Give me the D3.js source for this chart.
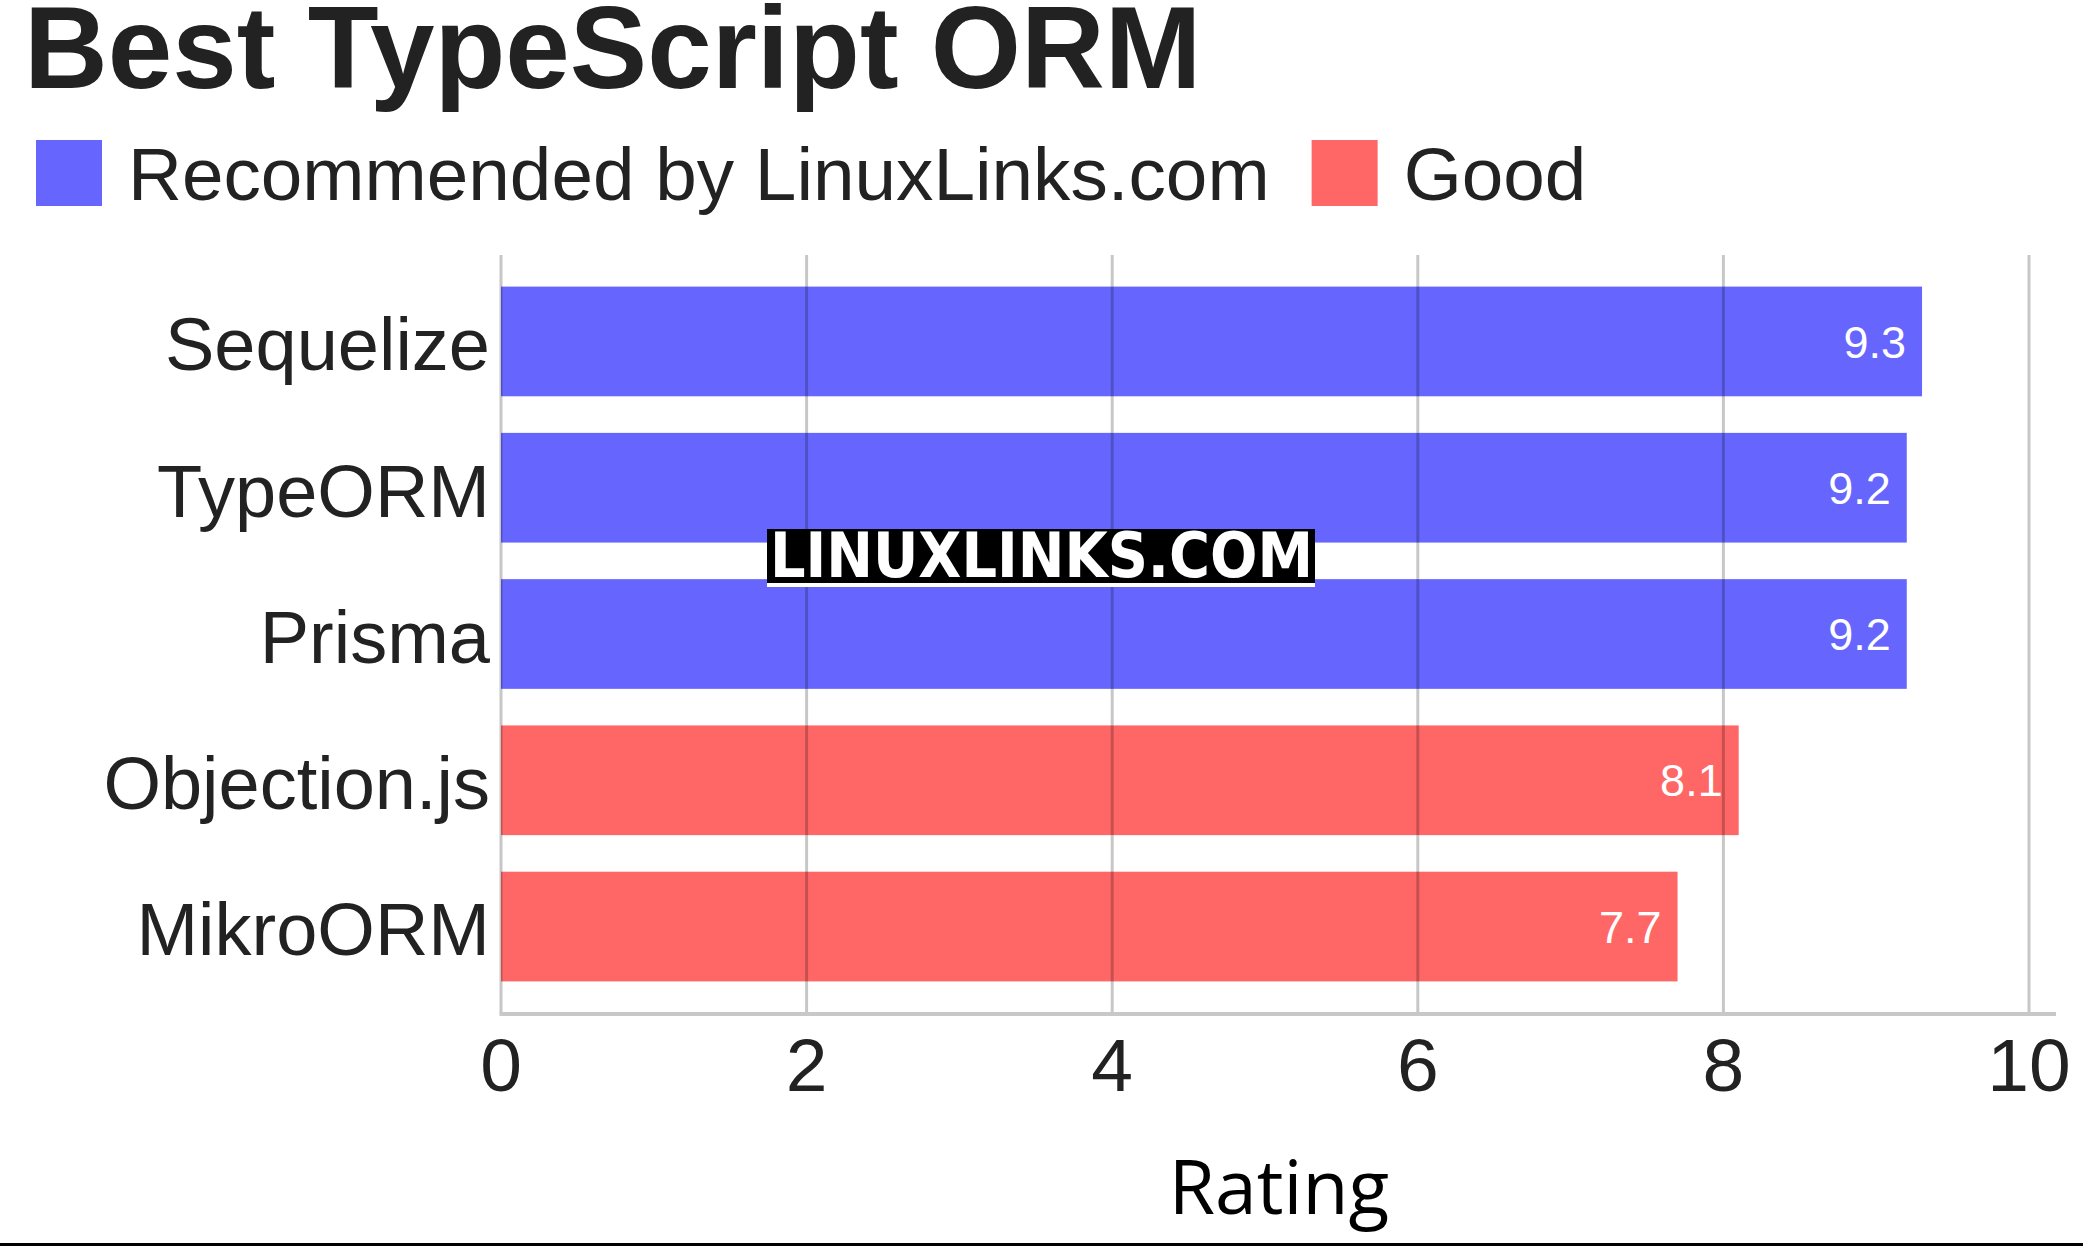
<!DOCTYPE html>
<html>
<head>
<meta charset="utf-8">
<script src="https://cdn.jsdelivr.net/npm/d3@7"></script>
<style>
  body { margin: 0; background: #fff; }
  svg { display: block; }
</style>
</head>
<body>
<script>
var names = ["Sequelize", "TypeORM", "Prisma", "Objection.js", "MikroORM"];
var ratings = [9.3, 9.2, 9.2, 8.1, 7.7];
var groups = ["rec", "rec", "rec", "good", "good"];
var legendLabels = ["Recommended by LinuxLinks.com", "Good"];
var xTicks = [0, 2, 4, 6, 8, 10];

var w = 2083, h = 1247;
var color = { rec: "#6666ff", good: "#ff6666" };
var font = "'Liberation Sans', Arial, Helvetica, sans-serif";

var svg = d3.select("body").append("svg")
    .attr("width", w)
    .attr("height", h);

var x = d3.scaleLinear().domain([0, 10]).range([501, 2029]);
var y = d3.scaleBand().domain(names).range([255, 1013])
    .paddingInner(0.25).paddingOuter(0.216);

// title
svg.append("text")
    .attr("x", 24).attr("y", 88)
    .attr("font-family", font).attr("font-weight", "bold")
    .attr("font-size", 116).attr("fill", "#222")
    .text("Best TypeScript ORM");

// legend
var lx = 36;
legendLabels.forEach(function (lab, i) {
    svg.append("rect")
        .attr("x", lx).attr("y", 140)
        .attr("width", 66).attr("height", 66)
        .attr("fill", i === 0 ? color.rec : color.good);
    var t = svg.append("text")
        .attr("x", lx + 92).attr("y", 200)
        .attr("font-family", font).attr("font-size", 74.7).attr("fill", "#222")
        .text(lab);
    lx = lx + 92 + t.node().getComputedTextLength() + 42;
});

// bars
svg.selectAll("rect.bar")
    .data(names)
    .enter()
    .append("rect")
    .attr("class", "bar")
    .attr("x", x(0))
    .attr("y", function (d) { return y(d); })
    .attr("width", function (d, i) { return x(ratings[i]) - x(0); })
    .attr("height", y.bandwidth())
    .attr("fill", function (d, i) { return color[groups[i]]; });

// grid on top of bars
svg.selectAll("line.grid")
    .data(xTicks)
    .enter()
    .append("line")
    .attr("class", "grid")
    .attr("x1", function (d) { return x(d); })
    .attr("x2", function (d) { return x(d); })
    .attr("y1", 255).attr("y2", 1013)
    .attr("stroke", "rgba(0,0,0,0.22)")
    .attr("stroke-width", 3);

// x axis line
svg.append("line")
    .attr("x1", x(0) - 1.5).attr("x2", 2056)
    .attr("y1", 1014).attr("y2", 1014)
    .attr("stroke", "#c8c8c8").attr("stroke-width", 4);

// x tick labels
svg.selectAll("text.xtick")
    .data(xTicks)
    .enter()
    .append("text")
    .attr("class", "xtick")
    .attr("x", function (d) { return x(d); })
    .attr("y", 1091)
    .attr("text-anchor", "middle")
    .attr("font-family", font).attr("font-size", 75).attr("fill", "#222")
    .text(function (d) { return d; });

// y labels
svg.selectAll("text.ylab")
    .data(names)
    .enter()
    .append("text")
    .attr("class", "ylab")
    .attr("x", 490)
    .attr("y", function (d) { return y(d) + y.bandwidth() / 2; })
    .attr("dy", "0.39em")
    .attr("text-anchor", "end")
    .attr("font-family", font).attr("font-size", 74).attr("fill", "#222")
    .text(function (d) { return d; });

// value labels
svg.selectAll("text.val")
    .data(names)
    .enter()
    .append("text")
    .attr("class", "val")
    .attr("x", function (d, i) { return x(ratings[i]) - 16; })
    .attr("y", function (d) { return y(d) + y.bandwidth() / 2; })
    .attr("dy", "0.36em")
    .attr("text-anchor", "end")
    .attr("font-family", font).attr("font-size", 45).attr("fill", "#fff")
    .text(function (d, i) { return ratings[i].toFixed(1); });

// axis title
svg.append("text")
    .attr("x", 1279).attr("y", 1214)
    .attr("text-anchor", "middle")
    .attr("font-family", "'Open Sans', 'Noto Sans', sans-serif")
    .attr("font-size", 75).attr("fill", "#000")
    .text("Rating");

// watermark
svg.append("rect")
    .attr("x", 767).attr("y", 529).attr("width", 548).attr("height", 54)
    .attr("fill", "#000");
svg.append("rect")
    .attr("x", 767).attr("y", 583).attr("width", 548).attr("height", 4)
    .attr("fill", "#fff");
svg.append("text")
    .attr("x", 770).attr("y", 577)
    .attr("font-family", "'DejaVu Sans Condensed', 'DejaVu Sans', sans-serif")
    .attr("font-weight", "bold").attr("font-size", 62).attr("fill", "#fff")
    .attr("textLength", 543).attr("lengthAdjust", "spacingAndGlyphs")
    .text("LINUXLINKS.COM");

// bottom rule
svg.append("rect")
    .attr("x", 0).attr("y", 1243).attr("width", w).attr("height", 3)
    .attr("fill", "#000");
</script>
</body>
</html>
